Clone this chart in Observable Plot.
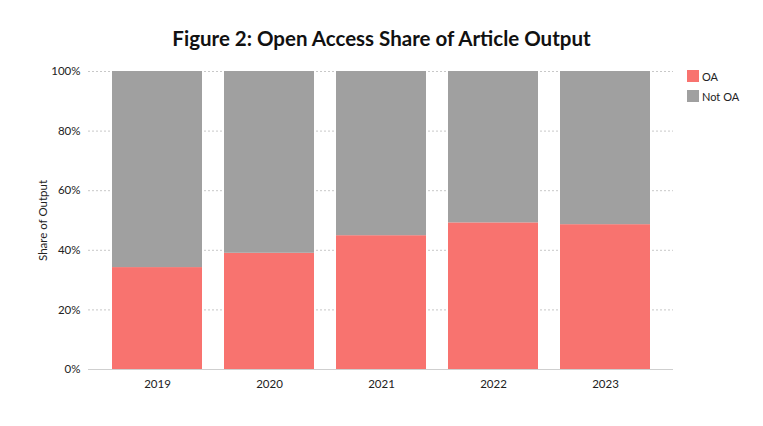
<!DOCTYPE html>
<html>
<head>
<meta charset="utf-8">
<script src="https://cdn.jsdelivr.net/npm/d3@7"></script>
<script src="https://cdn.jsdelivr.net/npm/@observablehq/plot@0.6"></script>
<style>
  body { margin: 0; background: #fff; }
  #wrap { position: relative; width: 763px; height: 426px; font-family: Lato, sans-serif; }
  #title { position: absolute; left: 0; top: 26px; width: 763px; text-align: center; font-family: Lato, sans-serif; font-weight: 700; font-size: 20.5px; color: #111; }
  #legend { position: absolute; left: 687px; top: 66px; font-size: 11px; color: #222; }
  .item { display: flex; align-items: center; height: 20px; }
  .sw { width: 12px; height: 12px; margin-right: 3px; }
</style>
</head>
<body>
<div id="wrap">
  <div id="title">Figure 2: Open Access Share of Article Output</div>
  <div id="legend"></div>
</div>
<script>
const years = ["2019", "2020", "2021", "2022", "2023"];
const oaShare = [34.2, 39.0, 44.9, 49.2, 48.6];
const groups = ["OA", "Not OA"];
const colors = ["#F8736F", "#A0A0A0"];
const yTicks = [0, 20, 40, 60, 80, 100];

const rows = [];
years.forEach((y, i) => {
  rows.push({year: y, group: "OA", value: oaShare[i]});
  rows.push({year: y, group: "Not OA", value: 100 - oaShare[i]});
});

const chart = Plot.plot({
  width: 763,
  height: 426,
  marginTop: 71,
  marginBottom: 57,
  marginLeft: 88,
  marginRight: 90,
  style: {fontFamily: "Lato, sans-serif", fontSize: "11px", color: "#222", background: "transparent"},
  x: {domain: years, padding: 0.2, label: null},
  y: {domain: [0, 100], label: null},
  color: {domain: groups, range: colors},
  marks: [
    Plot.gridY(yTicks, {stroke: "#c8c8c8", strokeOpacity: 1, strokeDasharray: "2,2"}),
    Plot.barY(rows, {x: "year", y: "value", fill: "group", order: groups}),
    Plot.ruleY([0], {stroke: "#cfcfcf", strokeWidth: 1}),
    Plot.axisY(yTicks, {tickSize: 0, tickPadding: 8, fontSize: 11.5, tickFormat: d => d + "%", label: "Share of Output", labelAnchor: "center", labelOffset: 50, labelArrow: "none"}),
    Plot.axisX({tickSize: 0, tickPadding: 10, fontSize: 11.5, label: null})
  ]
});
chart.style.position = "absolute";
chart.style.left = "0";
chart.style.top = "0";
document.getElementById("wrap").prepend(chart);

const legend = document.getElementById("legend");
groups.forEach((g, i) => {
  const it = document.createElement("div");
  it.className = "item";
  it.innerHTML = `<div class="sw" style="background:${colors[i]}"></div><span>${g}</span>`;
  legend.appendChild(it);
});
</script>
</body>
</html>
